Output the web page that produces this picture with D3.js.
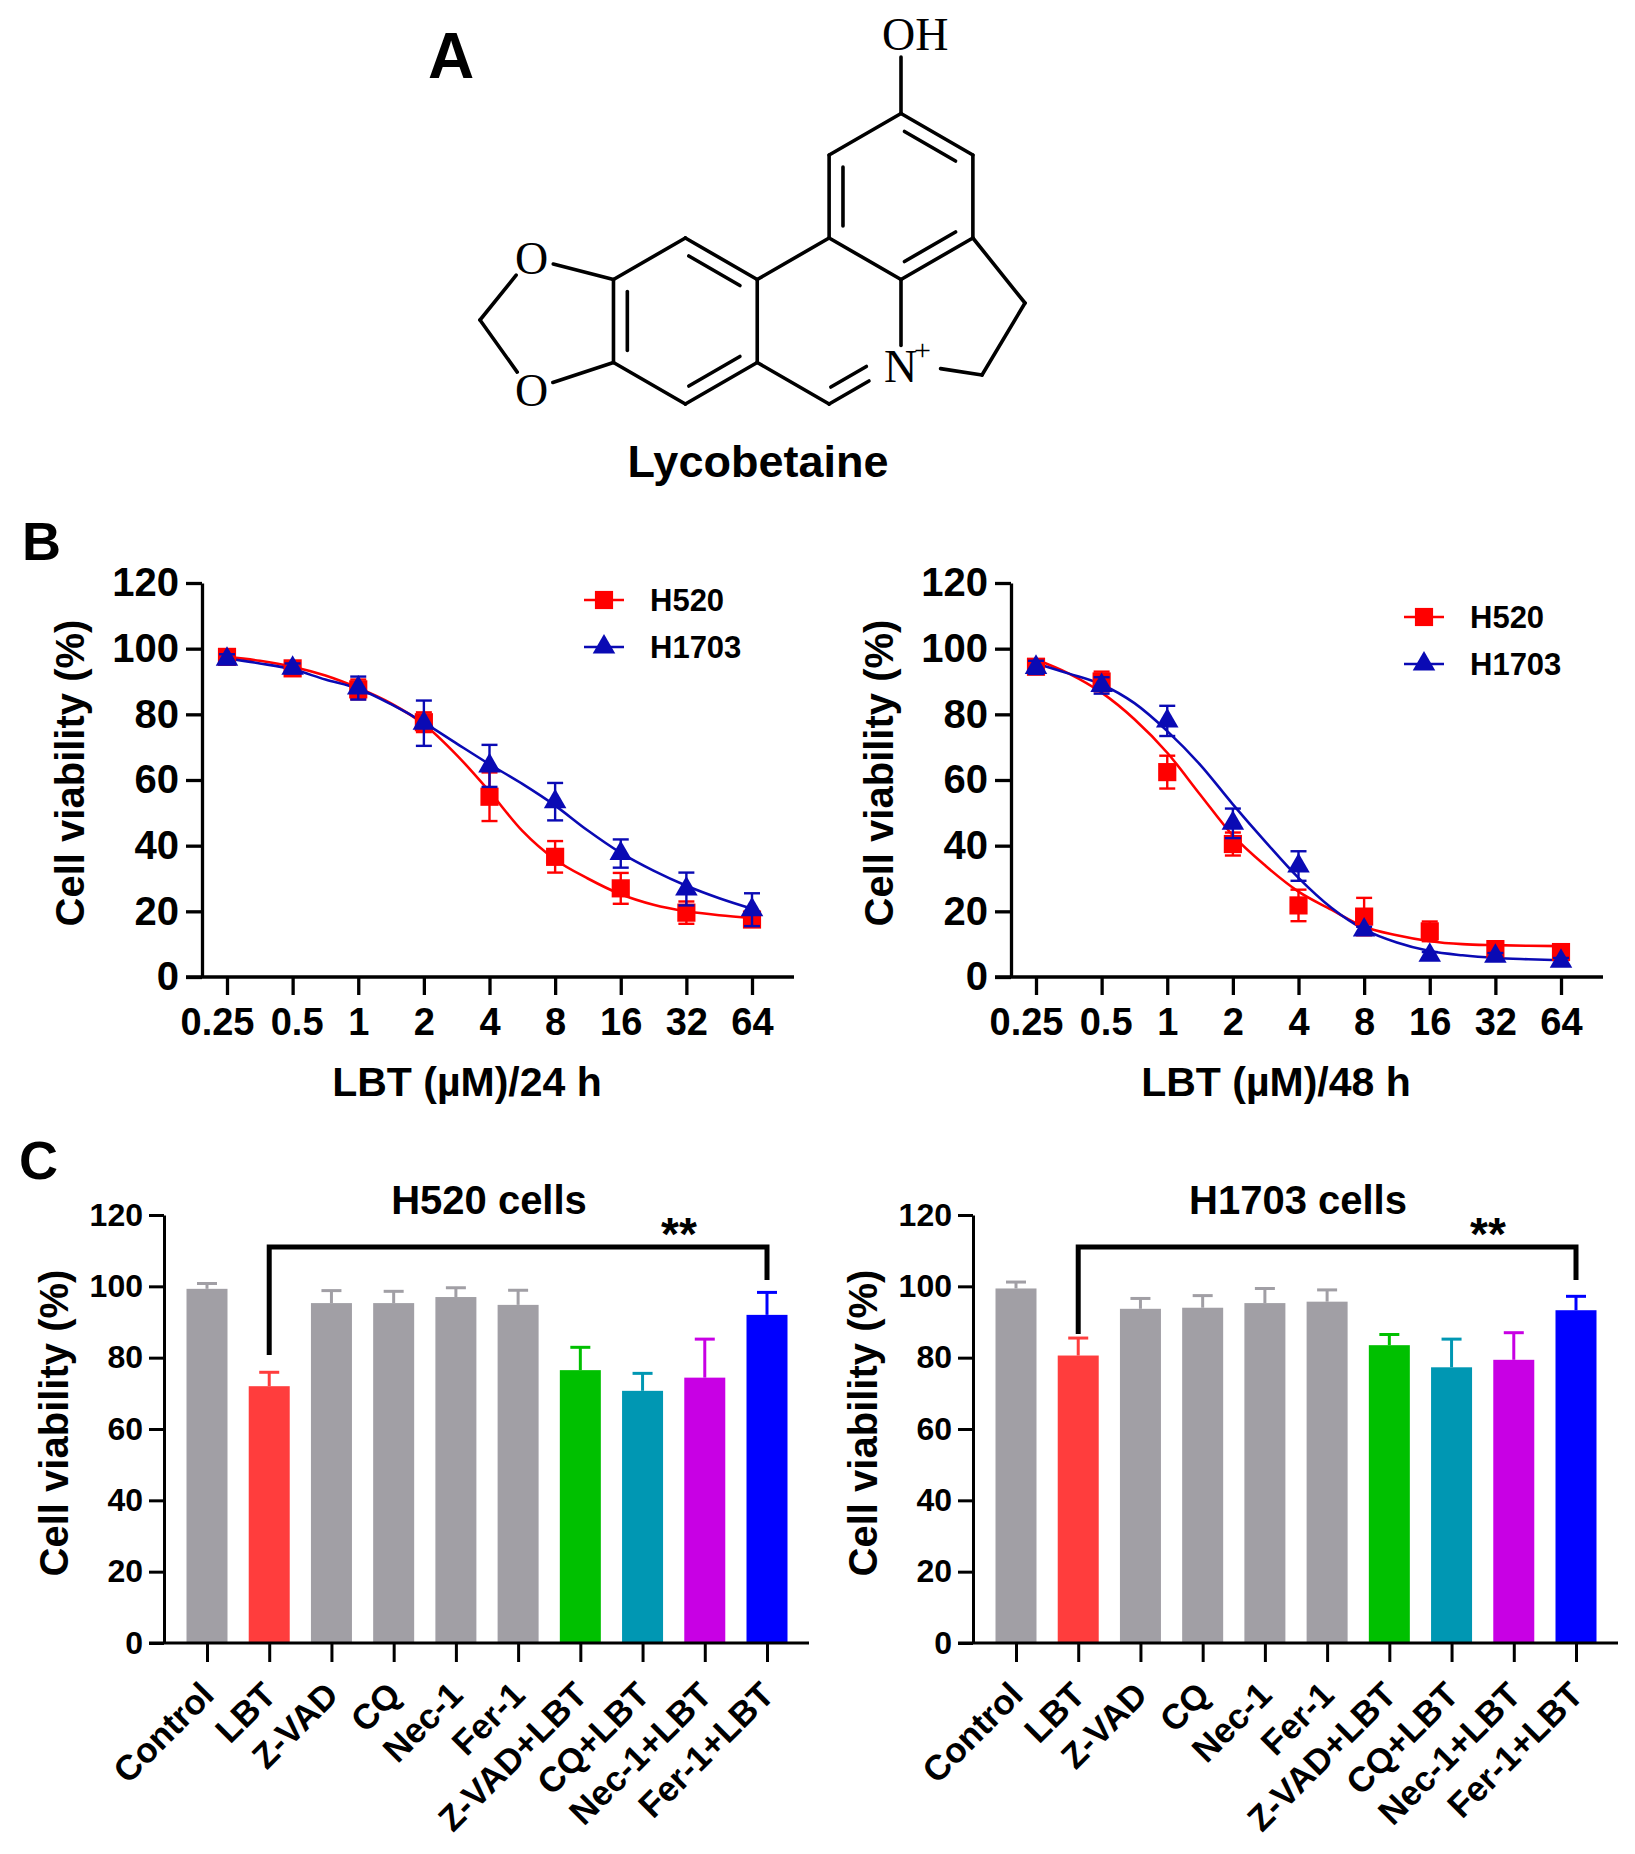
<!DOCTYPE html>
<html>
<head>
<meta charset="utf-8">
<script src="https://cdn.jsdelivr.net/npm/d3@7"></script>
<style>
body{margin:0;background:#fff}
svg{display:block}
text{font-family:"Liberation Sans",Arial,sans-serif;font-weight:bold;fill:#000}
</style>
</head>
<body>
<svg id="fig" width="1635" height="1854"></svg>
<script>
// ---------- data ----------
const doses = [0.25, 0.5, 1, 2, 4, 8, 16, 32, 64];
const doseLabels = ['0.25', '0.5', '1', '2', '4', '8', '16', '32', '64'];
const yTicks = [0, 20, 40, 60, 80, 100, 120];

const h520_24h = [97.5, 94.0, 87.6, 77.6, 54.9, 36.6, 27.0, 19.6, 17.5];
const h520_24h_err = [1.5, 1.5, 3, 3, 7.4, 4.8, 4.7, 3.4, 2];
const h1703_24h = [96.8, 94.0, 88.0, 77.3, 64.3, 53.4, 37.6, 26.8, 20.5];
const h1703_24h_err = [1.5, 1.5, 3.5, 6.9, 6.4, 5.7, 4.3, 5, 5];

const h520_48h = [94.5, 90.0, 62.4, 40.5, 21.8, 18.4, 13.9, 8.5, 7.6];
const h520_48h_err = [2, 3, 5, 3.5, 4.8, 5.7, 3, 1.5, 2];
const h1703_48h = [94.3, 88.8, 78.0, 46.8, 33.8, 14.3, 6.6, 6.3, 4.8];
const h1703_48h_err = [2, 2.5, 4.6, 4.5, 4.5, 1, 1, 1, 1];

// fitted curves, sampled at half-doubling steps
const fitDoses = [0.25, 0.354, 0.5, 0.707, 1, 1.414, 2, 2.83, 4, 5.66, 8, 11.3, 16, 22.6, 32, 45.3, 64];
const fit_h520_24h = [97.5, 96.3, 94.5, 91.8, 88.0, 83.3, 77.0, 67.6, 56.5, 44.5, 35.8, 30.0, 25.2, 22.0, 20.0, 18.8, 18.0];
const fit_h1703_24h = [97.0, 95.5, 93.7, 90.6, 87.8, 83.1, 77.5, 71.1, 64.8, 58.8, 52.2, 44.6, 37.8, 32.4, 27.8, 24.0, 20.8];
const fit_h520_48h = [96.7, 92.4, 86.6, 78.5, 68.3, 55.6, 43.1, 33.8, 26.0, 20.5, 15.3, 12.7, 10.9, 10.0, 9.7, 9.5, 9.4];
const fit_h1703_48h = [95.5, 92.4, 89.1, 83.4, 74.9, 64.7, 52.6, 41.1, 30.2, 21.1, 14.5, 10.5, 7.9, 6.6, 5.8, 5.4, 5.1];

const groups = ['Control', 'LBT', 'Z-VAD', 'CQ', 'Nec-1', 'Fer-1', 'Z-VAD+LBT', 'CQ+LBT', 'Nec-1+LBT', 'Fer-1+LBT'];
const groupColors = ['#a19fa5', '#ff3d3d', '#a19fa5', '#a19fa5', '#a19fa5', '#a19fa5', '#00c000', '#0097b3', '#c800e4', '#0000ff'];
const h520_bars = [99.3, 72.0, 95.3, 95.3, 97.0, 94.8, 76.5, 70.7, 74.4, 92.0];
const h520_bars_err = [1.5, 3.9, 3.5, 3.3, 2.6, 4.1, 6.4, 4.9, 10.8, 6.3];
const h1703_bars = [99.4, 80.6, 93.7, 94.0, 95.3, 95.7, 83.5, 77.3, 79.4, 93.3];
const h1703_bars_err = [1.8, 4.9, 2.9, 3.4, 4.1, 3.3, 3.0, 7.9, 7.6, 3.9];

const RED = '#ff0000', BLUE = '#0a0ab4';

const svg = d3.select('#fig');

// ---------- panel letters ----------
svg.append('text').attr('x', 428).attr('y', 78).style('font-size', '64px').text('A');
svg.append('text').attr('x', 22).attr('y', 560).style('font-size', '54px').text('B');
svg.append('text').attr('x', 19).attr('y', 1179).style('font-size', '54px').text('C');

// ---------- A: structure ----------
function drawLycobetaine(g){
    const S = 83, HW = S * Math.sqrt(3) / 2;
    const hex = (cx, cy, r) => d3.range(6).map(i => {
        const a = -Math.PI / 2 + i * Math.PI / 3;
        return [cx + r * Math.cos(a), cy + r * Math.sin(a)];
    });
    const c1 = [901, 196.5], c2 = [901 - HW, 196.5 + 1.5 * S], c3 = [901 - 3 * HW, 196.5 + 1.5 * S];
    const r1 = hex(...c1, S), r2 = hex(...c2, S), r3 = hex(...c3, S);
    const i1 = hex(...c1, S - 16), i2 = hex(...c2, S - 16), i3 = hex(...c3, S - 16);
    const N = r2[2];
    const O1 = [530, 258], O2 = [530, 390], CH2 = [480, 320];
    const P5a = [1025, 303], P5b = [982, 375];

    const trim = (p, q, a, b) => {
        const dx = q[0] - p[0], dy = q[1] - p[1], L = Math.hypot(dx, dy);
        return [[p[0] + dx * a / L, p[1] + dy * a / L], [q[0] - dx * b / L, q[1] - dy * b / L]];
    };
    const shrink = (p, q, f) => trim(p, q, f * Math.hypot(q[0]-p[0], q[1]-p[1]), f * Math.hypot(q[0]-p[0], q[1]-p[1]));

    const bonds = [
        // ring 1
        [r1[0], r1[1]], [r1[1], r1[2]], [r1[2], r1[3]], [r1[3], r1[4]], [r1[4], r1[5]], [r1[5], r1[0]],
        shrink(i1[0], i1[1], 0.06), shrink(i1[2], i1[3], 0.06), shrink(i1[4], i1[5], 0.06),
        // ring 3
        [r3[0], r3[1]], [r3[1], r3[2]], [r3[2], r3[3]], [r3[3], r3[4]], [r3[4], r3[5]], [r3[5], r3[0]],
        shrink(i3[0], i3[1], 0.06), shrink(i3[2], i3[3], 0.06), shrink(i3[4], i3[5], 0.06),
        // ring 2 (pyridinium)
        [r2[5], r2[0]], trim(r2[1], N, 0, 17), trim(r2[3], N, 0, 37), [r2[3], r2[4]],
        trim(i2[3], i2[2], 2, 24),
        // dioxole
        trim(r3[5], O1, 0, 24), trim(r3[4], O2, 0, 24), trim(CH2, O1, 0, 22), trim(CH2, O2, 0, 22),
        // five-membered ring
        [r1[2], P5a], [P5a, P5b], trim(P5b, N, 0, 40),
        // OH
        [r1[0], [901, 57]]
    ];
    g.selectAll('line.bond').data(bonds).enter().append('line')
        .attr('x1', d => d[0][0]).attr('y1', d => d[0][1])
        .attr('x2', d => d[1][0]).attr('y2', d => d[1][1])
        .attr('stroke', '#000').attr('stroke-width', 3.6).attr('stroke-linecap', 'round');

    const atom = (x, y, t, size) => g.append('text').attr('x', x).attr('y', y)
        .style('font-family', '"Liberation Serif","DejaVu Serif",serif').style('font-weight', 'normal')
        .style('font-size', size + 'px').text(t);
    atom(515, 274, 'O', 46);
    atom(515, 406, 'O', 46);
    atom(882, 50, 'OH', 46);
    atom(884, 382, 'N', 46);
    atom(914, 360, '+', 30);

    g.append('text').attr('x', 758).attr('y', 477).attr('text-anchor', 'middle')
        .style('font-size', '45px').text('Lycobetaine');
}
drawLycobetaine(svg.append('g'));

// ---------- B: dose response ----------
function drawDose(opt){
    const g = svg.append('g');
    const x = d3.scaleLog().base(2).domain([0.25, 64]).range([opt.x0, opt.x0 + 525]);
    const y = d3.scaleLinear().domain([0, 120]).range([977, 583]);

    const yAxis = g.append('g').attr('transform', `translate(${opt.axisX},0)`)
        .call(d3.axisLeft(y).tickValues(yTicks).tickSize(16).tickSizeOuter(0).tickPadding(7));
    const xAxis = g.append('g').attr('transform', 'translate(0,977)')
        .call(d3.axisBottom(x).tickValues(doses).tickFormat((d, i) => doseLabels[i]).tickSize(18).tickPadding(13));
    xAxis.select('.domain').remove();
    g.append('line').attr('x1', opt.axisX - 16).attr('x2', opt.axisX + 592)
        .attr('y1', 977).attr('y2', 977).attr('stroke', '#000').attr('stroke-width', 3.3);
    [yAxis, xAxis].forEach(a => {
        a.selectAll('path,line').attr('stroke', '#000').attr('stroke-width', 3.3);
        a.selectAll('text').attr('fill', '#000')
            .style('font-family', '"Liberation Sans",Arial,sans-serif').style('font-weight', 'bold');
    });
    yAxis.selectAll('text').style('font-size', '40px');
    // the first two dose labels sit slightly apart in the original
    xAxis.selectAll('text').style('font-size', '38px').attr('dx', (d, i) => i === 0 ? -10 : i === 1 ? 4 : 0);

    g.append('text').attr('x', opt.axisX + 265).attr('y', 1096).attr('text-anchor', 'middle')
        .style('font-size', '41px').text(opt.xTitle);
    g.append('text').attr('transform', `translate(${opt.axisX - 118},773) rotate(-90)`)
        .attr('text-anchor', 'middle').style('font-size', '40px').text('Cell viability (%)');

    const line = d3.line().x(d => x(d[0])).y(d => y(d[1])).curve(d3.curveMonotoneX);
    const series = [
        {vals: opt.red, err: opt.redErr, fit: opt.redFit, color: RED, sym: d3.symbolSquare, size: 330},
        {vals: opt.blue, err: opt.blueErr, fit: opt.blueFit, color: BLUE, sym: d3.symbolTriangle, size: 220}
    ];
    series.forEach(s => {
        g.append('path').datum(fitDoses.map((d, i) => [d, s.fit[i]]))
            .attr('d', line).attr('fill', 'none').attr('stroke', s.color).attr('stroke-width', 2.6);
    });
    series.forEach(s => {
        const pts = doses.map((d, i) => ({d, v: s.vals[i], e: s.err[i]}));
        const eb = g.append('g').attr('stroke', s.color).attr('stroke-width', 2.4);
        pts.forEach(p => {
            const cx = x(p.d), t = y(p.v + p.e), b = y(p.v - p.e);
            eb.append('line').attr('x1', cx).attr('x2', cx).attr('y1', t).attr('y2', b);
            eb.append('line').attr('x1', cx - 8).attr('x2', cx + 8).attr('y1', t).attr('y2', t);
            eb.append('line').attr('x1', cx - 8).attr('x2', cx + 8).attr('y1', b).attr('y2', b);
        });
        g.selectAll(null).data(pts).enter().append('path')
            .attr('d', d3.symbol(s.sym, s.size))
            .attr('transform', p => `translate(${x(p.d)},${y(p.v)})`)
            .attr('fill', s.color);
    });

    // legend
    ['H520', 'H1703'].forEach((name, i) => {
        const s = series[i];
        const ly = opt.legY + i * 47;
        g.append('line').attr('x1', opt.legX - 20).attr('x2', opt.legX + 20).attr('y1', ly).attr('y2', ly)
            .attr('stroke', s.color).attr('stroke-width', 2.4);
        g.append('path').attr('d', d3.symbol(s.sym, s.size)).attr('transform', `translate(${opt.legX},${ly})`)
            .attr('fill', s.color);
        g.append('text').attr('x', opt.legX + 46).attr('y', ly + 11).style('font-size', '31px').text(name);
    });
}
drawDose({x0: 227, axisX: 202, xTitle: 'LBT (\u00b5M)/24 h', legX: 604, legY: 600,
    red: h520_24h, redErr: h520_24h_err, redFit: fit_h520_24h,
    blue: h1703_24h, blueErr: h1703_24h_err, blueFit: fit_h1703_24h});
drawDose({x0: 1036, axisX: 1011, xTitle: 'LBT (\u00b5M)/48 h', legX: 1424, legY: 617,
    red: h520_48h, redErr: h520_48h_err, redFit: fit_h520_48h,
    blue: h1703_48h, blueErr: h1703_48h_err, blueFit: fit_h1703_48h});

// ---------- C: inhibitor bars ----------
function drawBars(opt){
    const g = svg.append('g');
    const x = d3.scalePoint().domain(groups).range([opt.axisX + 43, opt.axisX + 603]);
    const y = d3.scaleLinear().domain([0, 120]).range([1643, 1215]);
    const bw = 41;

    g.selectAll('rect').data(groups).enter().append('rect')
        .attr('x', d => x(d) - bw / 2).attr('width', bw)
        .attr('y', (d, i) => y(opt.vals[i])).attr('height', (d, i) => y(0) - y(opt.vals[i]))
        .attr('fill', (d, i) => groupColors[i]);
    groups.forEach((d, i) => {
        const top = y(opt.vals[i] + opt.err[i]);
        g.append('line').attr('x1', x(d)).attr('x2', x(d)).attr('y1', y(opt.vals[i])).attr('y2', top)
            .attr('stroke', groupColors[i]).attr('stroke-width', 3);
        g.append('line').attr('x1', x(d) - 10).attr('x2', x(d) + 10).attr('y1', top).attr('y2', top)
            .attr('stroke', groupColors[i]).attr('stroke-width', 3);
    });

    const yAxis = g.append('g').attr('transform', `translate(${opt.axisX},0)`)
        .call(d3.axisLeft(y).tickValues(yTicks).tickSize(15).tickSizeOuter(0).tickPadding(6));
    const xAxis = g.append('g').attr('transform', 'translate(0,1643)')
        .call(d3.axisBottom(x).tickSize(19).tickFormat(''));
    xAxis.select('.domain').remove();
    g.append('line').attr('x1', opt.axisX - 15).attr('x2', opt.axisX + 645)
        .attr('y1', 1643).attr('y2', 1643).attr('stroke', '#000').attr('stroke-width', 3);
    [yAxis, xAxis].forEach(a => {
        a.selectAll('path,line').attr('stroke', '#000').attr('stroke-width', 3);
        a.selectAll('text').style('font-size', '32px').attr('fill', '#000')
            .style('font-family', '"Liberation Sans",Arial,sans-serif').style('font-weight', 'bold');
    });
    g.selectAll('text.grp').data(groups).enter().append('text')
        .attr('transform', d => `translate(${x(d) + 9},1697) rotate(-45)`)
        .attr('text-anchor', 'end').style('font-size', '35px').text(d => d);

    g.append('text').attr('x', opt.axisX + 325).attr('y', 1214).attr('text-anchor', 'middle')
        .style('font-size', '40px').text(opt.title);
    g.append('text').attr('transform', `translate(${opt.axisX - 96},1423) rotate(-90)`)
        .attr('text-anchor', 'middle').style('font-size', '40px').text('Cell viability (%)');

    // significance bracket LBT vs Fer-1+LBT
    const xl = x('LBT'), xr = x('Fer-1+LBT');
    g.append('path').attr('d', `M${xl},${opt.leftDrop}V1247H${xr}V1280`)
        .attr('fill', 'none').attr('stroke', '#000').attr('stroke-width', 5);
    g.append('text').attr('x', xr - 88).attr('y', 1250).attr('text-anchor', 'middle')
        .style('font-size', '46px').text('**');
}
drawBars({axisX: 164, title: 'H520 cells', vals: h520_bars, err: h520_bars_err, leftDrop: 1355});
drawBars({axisX: 973, title: 'H1703 cells', vals: h1703_bars, err: h1703_bars_err, leftDrop: 1334});
</script>
</body>
</html>
